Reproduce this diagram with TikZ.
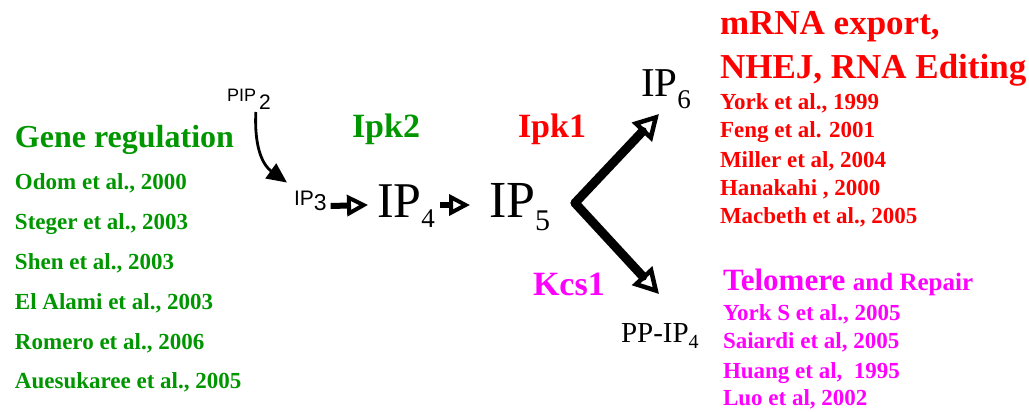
\documentclass[tikz,border=0pt]{standalone}
\usepackage{fontspec}
\setmainfont{Liberation Serif}
\newfontfamily\sansf{Liberation Sans}
\usetikzlibrary{arrows.meta}
\definecolor{mygreen}{RGB}{0,150,0}
\definecolor{myred}{RGB}{255,0,0}
\definecolor{mymag}{RGB}{255,0,255}
\newcommand{\fs}[1]{\fontsize{#1}{#1}\selectfont}
\tikzset{
  txt/.style={anchor=base west, inner sep=0pt, outer sep=0pt},
  greenref/.style={txt, text=mygreen, font=\bfseries\fs{23}},
  redref/.style={txt, text=myred, font=\bfseries\fs{23}},
  magref/.style={txt, text=mymag, font=\bfseries\fs{23}},
  enzyme/.style={txt, font=\bfseries\fs{34}},
  smallarrow/.style={line width=6pt, -{Triangle[open, length=21pt, width=21pt, line width=4pt]}},
  bigarrow/.style={line width=9pt, line cap=round, -{Triangle[open, length=25pt, width=27pt, line width=4.5pt]}},
  curvearrow/.style={line width=2.8pt, -{Triangle[length=20pt, width=18pt]}}
}
\begin{document}
\begin{tikzpicture}[x=1pt,y=-1pt]
\useasboundingbox[fill=white] (0,0) rectangle (1029,412);

% Green column
\node[txt, text=mygreen, font=\bfseries\fs{32}] (gene) at (15,147) {Gene regulation};
\node[greenref] (g1) at (15,189) {Odom et al., 2000};
\node[greenref] (g2) at (15,229) {Steger et al., 2003};
\node[greenref] (g3) at (15,269) {Shen et al., 2003};
\node[greenref] (g4) at (15,309) {El Alami et al., 2003};
\node[greenref] (g5) at (15,349) {Romero et al., 2006};
\node[greenref] (g6) at (15,388) {Auesukaree et al., 2005};

% Enzymes
\node[enzyme, text=mygreen] (ipk2) at (352,138) {Ipk2};
\node[enzyme, text=myred] (ipk1) at (518,138) {Ipk1};
\node[enzyme, text=mymag] (kcs1) at (533,295) {Kcs1};

% Molecules
\node[txt, font=\sansf\fs{18}] (pip2) at (227,102) {PIP\,\raisebox{-8pt}{\fs{21}2}};
\node[txt, font=\sansf\fs{21}] (ip3) at (294,205) {IP\raisebox{-5pt}{\fs{23}3}};
\node[txt, font=\fs{50}] (ip4) at (377,217) {IP\raisebox{-10pt}{\fs{27}4}};
\node[txt, font=\fs{52}] (ip5) at (489,217) {IP\raisebox{-13pt}{\fs{30}5}};
\node[txt, font=\fs{41}] (ip6) at (641,97) {IP\raisebox{-11pt}{\fs{27}6}};
\node[txt, font=\fs{29}] (ppip4) at (621,342) {PP-IP\raisebox{-6pt}{\fs{20}4}};

% Connectors
\draw[curvearrow] ([xshift=7pt,yshift=-2pt]pip2.south) .. controls (254,150) and (264,166) .. ([xshift=-7pt,yshift=8pt]ip3.north west);
\draw[smallarrow] ([xshift=4pt,yshift=-1pt]ip3.base east) -- ([xshift=-9pt,yshift=12pt]ip4.base west);
\draw[smallarrow] ([xshift=5pt,yshift=12pt]ip4.base east) -- ([xshift=-19pt,yshift=12pt]ip5.base west);
\coordinate (v) at (575,203);
\coordinate (tipsix) at (659,114);
\coordinate (tippp) at (659,294);
\draw[bigarrow] (v) -- (tipsix);
\draw[bigarrow] (v) -- (tippp);

% Red column
\node[txt, text=myred, font=\bfseries\fs{35}] (r0) at (720,35) {mRNA export,};
\node[txt, text=myred, font=\bfseries\fs{35}] (r00) at (720,78) {NHEJ, RNA Editing};
\node[redref] (r1) at (720,110) {York et al., 1999};
\node[redref] (r2) at (720,138) {Feng et al. 2001};
\node[redref] (r3) at (720,167) {Miller et al, 2004};
\node[redref] (r4) at (720,195) {Hanakahi , 2000};
\node[redref] (r5) at (720,223) {Macbeth et al., 2005};

% Magenta column
\node[txt, text=mymag, font=\bfseries] (m0) at (723,290) {\fs{31}Telomere\ \fs{25}and Repair};
\node[magref] (m1) at (723,320) {York S et al., 2005};
\node[magref] (m2) at (723,348) {Saiardi et al, 2005};
\node[magref] (m3) at (723,378) {Huang et al,\ \ 1995};
\node[magref] (m4) at (723,405) {Luo et al, 2002};
\end{tikzpicture}
\end{document}
